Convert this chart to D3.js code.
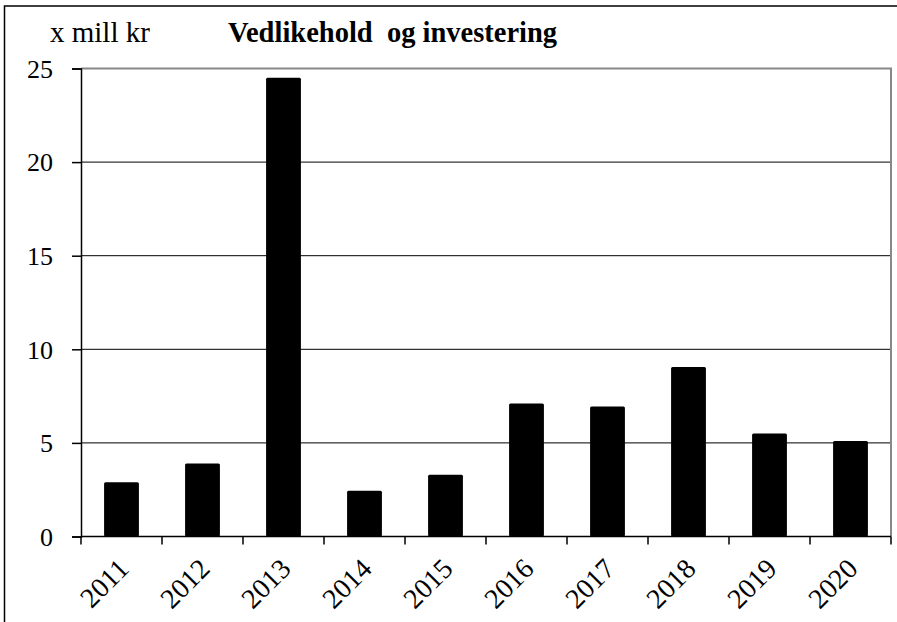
<!DOCTYPE html>
<html>
<head>
<meta charset="utf-8">
<script src="https://cdn.jsdelivr.net/npm/d3@7"></script>
<style>
  body { margin: 0; background: #fff; }
  svg { display: block; }
</style>
</head>
<body>
<script>
var years = ["2011", "2012", "2013", "2014", "2015", "2016", "2017", "2018", "2019", "2020"];
var values = [2.9, 3.9, 24.5, 2.45, 3.3, 7.1, 6.95, 9.05, 5.5, 5.1];
var yTicks = [0, 5, 10, 15, 20, 25];

var width = 897,
    height = 622;

var plot = { left: 81, right: 891, top: 68.5, bottom: 536.5 };
var serif = "Liberation Serif";

var svg = d3.select("body").append("svg")
    .attr("width", width)
    .attr("height", height)
    .attr("font-family", serif);

// outer frame (runs off the right and bottom edge)
svg.append("rect")
    .attr("x", 4.5)
    .attr("y", 6)
    .attr("width", 920)
    .attr("height", 640)
    .attr("fill", "none")
    .attr("stroke", "#000")
    .attr("stroke-width", 1.5);

var x = d3.scaleBand()
    .domain(years)
    .range([plot.left, plot.right])
    .paddingInner(0.57)
    .paddingOuter(0.285);

var y = d3.scaleLinear()
    .domain([0, 25])
    .range([plot.bottom, plot.top]);

// grid lines
svg.selectAll("line.grid")
    .data(yTicks.filter(function(d) { return d > 0 && d < 25; }))
    .enter().append("line")
    .attr("class", "grid")
    .attr("x1", plot.left)
    .attr("x2", plot.right)
    .attr("y1", function(d) { return y(d); })
    .attr("y2", function(d) { return y(d); })
    .attr("stroke", "#000")
    .attr("stroke-width", 1);

// gray border top + right
svg.append("path")
    .attr("d", "M" + plot.left + "," + plot.top + "H" + plot.right + "V" + plot.bottom)
    .attr("fill", "none")
    .attr("stroke", "#888")
    .attr("stroke-width", 2);

// bars
svg.selectAll("rect.bar")
    .data(values)
    .enter().append("rect")
    .attr("class", "bar")
    .attr("x", function(d, i) { return x(years[i]); })
    .attr("width", x.bandwidth())
    .attr("y", function(d) { return y(d); })
    .attr("height", function(d) { return y(0) - y(d); })
    .attr("rx", 1.5)
    .attr("fill", "#000");

// y axis
var yAxis = svg.append("g")
    .attr("transform", "translate(" + plot.left + ",0)")
    .call(d3.axisLeft(y).tickValues(yTicks).tickSize(9).tickPadding(19));
yAxis.attr("font-family", serif).attr("font-size", 26);
yAxis.select(".domain").attr("stroke", "#000").attr("stroke-width", 1.5);
yAxis.selectAll(".tick line").attr("stroke", "#000").attr("stroke-width", 1.5);
yAxis.selectAll(".tick text")
    .attr("fill", "#000")
    .attr("dy", "0.34em");

// x axis: ticks on category boundaries
var bounds = d3.range(years.length + 1).map(function(i) {
    return plot.left + i * (plot.right - plot.left) / years.length;
});
svg.append("line")
    .attr("x1", plot.left)
    .attr("x2", plot.right)
    .attr("y1", plot.bottom)
    .attr("y2", plot.bottom)
    .attr("stroke", "#000")
    .attr("stroke-width", 1.5);
svg.selectAll("line.xtick")
    .data(bounds)
    .enter().append("line")
    .attr("class", "xtick")
    .attr("x1", function(d) { return d; })
    .attr("x2", function(d) { return d; })
    .attr("y1", plot.bottom)
    .attr("y2", plot.bottom + 8)
    .attr("stroke", "#000")
    .attr("stroke-width", 1.5);

svg.selectAll("text.xlab")
    .data(years)
    .enter().append("text")
    .attr("class", "xlab")
    .attr("transform", function(d) {
        return "translate(" + (x(d) + x.bandwidth() / 2 - 5) + "," + (plot.bottom + 20) + ") rotate(-45)";
    })
    .attr("text-anchor", "end")
    .attr("dy", "0.7em")
    .attr("font-family", serif)
    .attr("font-size", 28)
    .text(function(d) { return d; });

// unit label and title
svg.append("text")
    .attr("x", 50)
    .attr("y", 42)
    .attr("font-family", serif)
    .attr("font-size", 29)
    .text("x mill kr");

svg.append("text")
    .attr("x", 228)
    .attr("y", 42)
    .attr("font-family", serif)
    .attr("font-size", 28.5)
    .attr("font-weight", "bold")
    .attr("xml:space", "preserve")
    .text("Vedlikehold  og investering");
</script>
</body>
</html>
